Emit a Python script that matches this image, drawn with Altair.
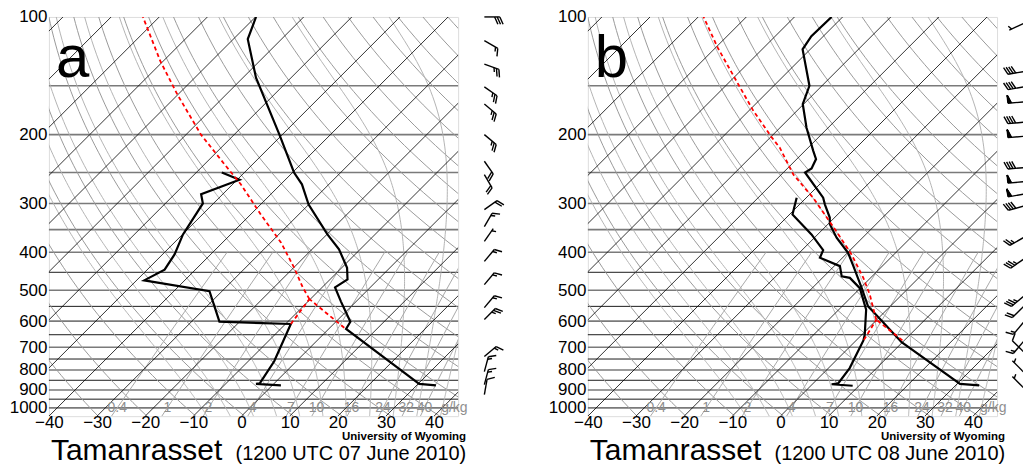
import altair as alt
import numpy as np
import pandas as pd

# ---------------- values ----------------
station = "Tamanrasset"
times = ["(1200 UTC 07 June 2010)", "(1200 UTC 08 June 2010)"]
letters = ["a", "b"]
credit = "University of Wyoming"

# panel a : temperature, dew point, parcel (hPa, degC)
a_temp_p = [100, 114, 143, 200, 250, 268, 302, 360, 393, 438, 469, 492, 534, 602, 628, 868, 876]
a_temp_t = [-79.9, -77.0, -67.3, -50.6, -39.7, -35.6, -30.0, -19.9, -14.4, -8.9, -6.4, -7.3, -3.2, 3.0, 3.6, 30.2, 34.0]
a_dwpt_p = [250, 261, 284, 300, 360, 405, 443, 472, 503, 602, 610, 760, 866, 868, 876]
a_dwpt_t = [-54.7, -49.5, -54.5, -52.2, -49.9, -47.5, -46.4, -48.4, -32.6, -24.2, -8.9, -4.6, -3.0, -3.7, 1.8]
a_parcel_p = [527, 492, 438, 378, 320, 268, 238, 200, 158, 130, 100]
a_parcel_t = [-10.2, -14.0, -19.9, -27.8, -37.9, -48.3, -55.9, -66.9, -80.1, -90.5, -103.4]
a_pdry_p = [624, 527]
a_pdry_t = [3.0, -10.2]
a_pmix_p = [610, 527]
a_pmix_t = [-8.9, -10.2]
a_wind_p = [100, 115, 132, 151, 167, 200, 234, 253, 311, 344, 375, 422, 484, 554, 594, 739, 808, 872, 925]
a_wind_dir = [90, 120, 110, 125, 130, 130, 145, 150, 55, 30, 35, 40, 40, 40, 45, 50, 15, 15, 10]
a_wind_spd = [30, 15, 25, 25, 25, 25, 20, 20, 20, 15, 5, 15, 15, 15, 25, 15, 15, 15, 10]

# panel b
b_temp_p = [100, 112, 121, 150, 167, 192, 220, 231, 244, 250, 290, 302, 326, 339, 367, 401, 434, 494, 550, 566, 679, 868, 876]
b_temp_t = [-72.3, -72.5, -71.6, -62.6, -60.2, -54.5, -48.3, -46.0, -45.0, -45.5, -36.5, -34.7, -31.0, -29.6, -25.4, -19.9, -16.0, -9.7, -4.6, -2.6, 9.8, 30.6, 34.9]
b_dwpt_p = [290, 320, 360, 395, 413, 434, 461, 465, 494, 561, 650, 672, 791, 865, 870, 878]
b_dwpt_t = [-42.0, -39.4, -31.3, -25.6, -24.7, -18.8, -16.3, -14.3, -10.1, -4.3, 0.6, 1.5, 4.4, 5.2, 4.0, 8.7]
b_parcel_p = [595, 577, 513, 465, 406, 360, 290, 253, 216, 203, 174, 146, 120, 100]
b_parcel_t = [-0.1, -1.5, -6.7, -11.5, -18.7, -25.7, -38.6, -47.5, -55.9, -59.8, -69.0, -78.7, -89.5, -98.9]
b_pdry_p = [672, 595]
b_pdry_t = [9.6, -0.1]
b_pmix_p = [670, 595]
b_pmix_t = [1.5, -0.1]
b_wind_p = [104, 138, 151, 165, 186, 202, 243, 264, 284, 305, 367, 417, 519, 551, 605, 677, 718, 808, 887]
b_wind_dir = [245, 260, 260, 265, 265, 265, 265, 265, 260, 255, 240, 235, 230, 225, 220, 220, 315, 315, 315]
b_wind_spd = [5, 40, 40, 50, 40, 50, 40, 50, 50, 40, 25, 35, 35, 20, 15, 15, 10, 5, 5]

# diagram background definitions
x_ticks = [-40, -30, -20, -10, 0, 10, 20, 30, 40]
p_ticks = [100, 200, 300, 400, 500, 600, 700, 800, 900, 1000]
isobars_gray = [150, 200, 250, 300, 350, 400, 500, 600, 700, 800, 900, 1000]
isobars_black = [450, 550, 650, 750, 850, 950]
isotherms = list(range(-130, 50, 10))
dry_thetas = list(range(220, 480, 10))
moist_t1000 = [-10, -5, 0, 5, 10, 15, 20, 25, 30, 35, 40]
mix_ratios = [0.4, 1, 2, 4, 7, 10, 16, 24, 32, 40]
mix_labels = ["0.4", "1", "2", "4", "7", "10", "16", "24", "32", "40"]
mix_unit = "g/kg"

# ---------------- geometry ----------------
W, H = 410, 400
P_BOT, P_TOP = 1050.0, 100.0
T_MIN, T_MAX = -40.0, 45.0
PX_PER_C = W / (T_MAX - T_MIN)
PX_PER_LN = H / np.log(P_BOT / P_TOP)
SKEW = PX_PER_LN / PX_PER_C
STATION_X = T_MIN + 436.3 / PX_PER_C   # barb column, just right of the frame
FONT = "Liberation Sans"

XS = alt.Scale(domain=[T_MIN, T_MAX], nice=False, zero=False)
YS = alt.Scale(type="log", domain=[P_TOP, P_BOT], reverse=True, nice=False)
XAX = alt.Axis(values=x_ticks, title=None, ticks=False, domain=False, grid=False,
               labelFontSize=17, labelPadding=-1.5, labelFont=FONT, labelColor="black",
               labelFlush=False, labelOverlap=False, format="d")
YAX = alt.Axis(values=p_ticks, title=None, ticks=False, domain=False, grid=False,
               labelFontSize=17, labelPadding=2, labelFont=FONT, labelColor="black",
               labelFlush=False, labelOverlap=False, format="d")

SKEW_EXPR = f"datum.T + {SKEW:.5f} * log({P_BOT} / datum.p)"


def line_df(curves):
    rows = []
    for cid, (ps, ts) in enumerate(curves):
        for k, (p, t) in enumerate(zip(ps, ts)):
            rows.append({"id": cid, "o": k, "p": float(p), "T": float(t)})
    return pd.DataFrame(rows)


def skew_lines(df, color, width, dash=None, clip=True):
    kw = dict(color=color, strokeWidth=width, clip=clip)
    if dash:
        kw["strokeDash"] = dash
    return alt.Chart(df).mark_line(**kw).transform_calculate(xs=SKEW_EXPR).encode(
        x=alt.X("xs:Q", scale=XS, axis=XAX),
        y=alt.Y("p:Q", scale=YS, axis=YAX),
        detail="id:N", order="o:Q")


# background curves
pgrid = np.geomspace(P_BOT, P_TOP, 60)
iso_df = line_df([([P_BOT, P_TOP], [t, t]) for t in isotherms])
dry_df = line_df([(pgrid, th * (pgrid / 1000.0) ** 0.2857 - 273.15) for th in dry_thetas])


def moist_curve(t0):
    Rd, cp, Lv, eps = 287.04, 1005.7, 2.501e6, 0.622

    def f(T, p):
        Tc = T - 273.15
        es = 6.112 * np.exp(17.67 * Tc / (Tc + 243.5))
        rs = eps * es / (p - es)
        return (Rd * T + Lv * rs) / (p * (cp + Lv * Lv * rs * eps / (Rd * T * T)))

    def run(pend, dp):
        T, p = t0 + 273.15, 1000.0
        ps, ts = [], []
        while (dp < 0 and p > pend) or (dp > 0 and p < pend):
            k1 = f(T, p)
            k2 = f(T + 0.5 * dp * k1, p + 0.5 * dp)
            k3 = f(T + 0.5 * dp * k2, p + 0.5 * dp)
            k4 = f(T + dp * k3, p + dp)
            T += dp / 6 * (k1 + 2 * k2 + 2 * k3 + k4)
            p += dp
            ps.append(p)
            ts.append(T - 273.15)
        return ps, ts

    pu, tu = run(P_TOP, -5.0)
    pd_, td = run(P_BOT, 5.0)
    ps = pd_[::-1] + [1000.0] + pu
    ts = td[::-1] + [t0] + tu
    return ps, ts


moist_df = line_df([moist_curve(t) for t in moist_t1000])


def td_of_w(w, p):
    e = w * p / (622.0 + w)
    l = np.log(e / 6.112)
    return 243.5 * l / (17.67 - l)


pmix = np.geomspace(P_BOT, 400, 12)
mix_df = line_df([(pmix, td_of_w(w, pmix)) for w in mix_ratios])
mixlab_df = pd.DataFrame({"p": [1000.0] * len(mix_ratios),
                          "T": [float(td_of_w(w, 1000.0)) for w in mix_ratios],
                          "lab": mix_labels})


def barb_df(ps, dirs, spds):
    L, FL, SP, FW = 15.5, 8.0, 2.6, 3.5
    rows = []
    for p, d, s in zip(ps, dirs, spds):
        th = np.deg2rad(d)
        u = np.array([np.sin(th), np.cos(th)])
        perp = np.array([u[1], -u[0]])
        fdir = perp + 0.45 * u
        fdir = fdir / np.linalg.norm(fdir)
        segs = [(np.zeros(2), u * L)]
        n50 = int(s // 50)
        rem = s - 50 * n50
        n10 = int(rem // 10)
        n5 = int(round((rem - 10 * n10) / 5.0))
        pos = L
        for _ in range(n50):
            a = u * pos
            b = u * (pos - FW)
            c = a + perp * FL
            for fr in np.linspace(0, 1, 5):
                segs.append((a + (b - a) * fr, c))
            segs.append((c, b))
            pos -= FW + 1.0
        for _ in range(n10):
            a = u * pos
            segs.append((a, a + fdir * FL))
            pos -= SP
        for _ in range(n5):
            if n50 == 0 and n10 == 0:
                pos -= SP
            a = u * pos
            segs.append((a, a + fdir * FL * 0.55))
        for s0, s1 in segs:
            rows.append({
                "bx": STATION_X + s0[0] / PX_PER_C,
                "bx2": STATION_X + s1[0] / PX_PER_C,
                "bp": p * np.exp(-s0[1] / PX_PER_LN),
                "bp2": p * np.exp(-s1[1] / PX_PER_LN),
            })
    return pd.DataFrame(rows)


one = pd.DataFrame({"k": [0]})


def txt(text, x, y, size, align="left", weight="normal", color="black"):
    return alt.Chart(one).mark_text(text=text, align=align, baseline="alphabetic",
                                    fontSize=size, font=FONT, fontWeight=weight,
                                    color=color, clip=False).encode(
        x=alt.value(x), y=alt.value(y))


def panel(i, tp, tt, dp_, dt, pp, pt, dryp, dryt, mixp, mixt, wp, wd, ws):
    layers = []
    layers.append(alt.Chart(pd.DataFrame({"p": isobars_gray})).mark_rule(
        color="#7a7a7a", strokeWidth=1.6).encode(y=alt.Y("p:Q", scale=YS, axis=YAX)))
    layers.append(alt.Chart(pd.DataFrame({"p": isobars_black})).mark_rule(
        color="black", strokeWidth=0.9).encode(y=alt.Y("p:Q", scale=YS, axis=YAX)))
    layers.append(skew_lines(dry_df, "#9a9a9a", 1.0))
    layers.append(skew_lines(moist_df, "#b4b4b4", 1.0))
    layers.append(skew_lines(mix_df, "#a8a8a8", 1.0))
    layers.append(skew_lines(iso_df, "black", 0.8))
    layers.append(alt.Chart(mixlab_df).mark_text(
        fontSize=14, font=FONT, color="#8f8f8f", baseline="middle", clip=False).transform_calculate(
        xs=SKEW_EXPR).encode(x=alt.X("xs:Q", scale=XS, axis=XAX),
                             y=alt.Y("p:Q", scale=YS, axis=YAX), text="lab:N"))
    layers.append(txt(mix_unit, 393, 396, 14, color="#8f8f8f"))
    layers.append(skew_lines(line_df([(tp, tt), (dp_, dt)]), "black", 2.2))
    layers.append(skew_lines(line_df([(pp, pt), (dryp, dryt), (mixp, mixt)]),
                             "#ff0000", 1.8, dash=[4, 3]))
    layers.append(alt.Chart(barb_df(wp, wd, ws)).mark_rule(
        color="black", strokeWidth=1.4, clip=False).encode(
        x=alt.X("bx:Q", scale=XS, axis=XAX), x2="bx2:Q",
        y=alt.Y("bp:Q", scale=YS, axis=YAX), y2="bp2:Q"))
    layers.append(txt(letters[i], 7, 60, 60))
    layers.append(txt(station, 2, 444, 30))
    layers.append(txt(times[i], 187, 444, 20))
    layers.append(txt(credit, 418, 424, 11.5, align="right", weight="bold"))
    return alt.layer(*layers).properties(width=W, height=H)


pa = panel(0, a_temp_p, a_temp_t, a_dwpt_p, a_dwpt_t, a_parcel_p, a_parcel_t,
           a_pdry_p, a_pdry_t, a_pmix_p, a_pmix_t, a_wind_p, a_wind_dir, a_wind_spd)
pb = panel(1, b_temp_p, b_temp_t, b_dwpt_p, b_dwpt_t, b_parcel_p, b_parcel_t,
           b_pdry_p, b_pdry_t, b_pmix_p, b_pmix_t, b_wind_p, b_wind_dir, b_wind_spd)

chart = alt.hconcat(pa, pb, spacing=130, bounds="flush").properties(
    padding={"left": 0, "top": -1.5, "right": -2, "bottom": 0}
).configure_view(stroke="black", strokeWidth=1.5).configure(background="white")

chart.save("out.html", embed_options={"renderer": "svg", "actions": False})
